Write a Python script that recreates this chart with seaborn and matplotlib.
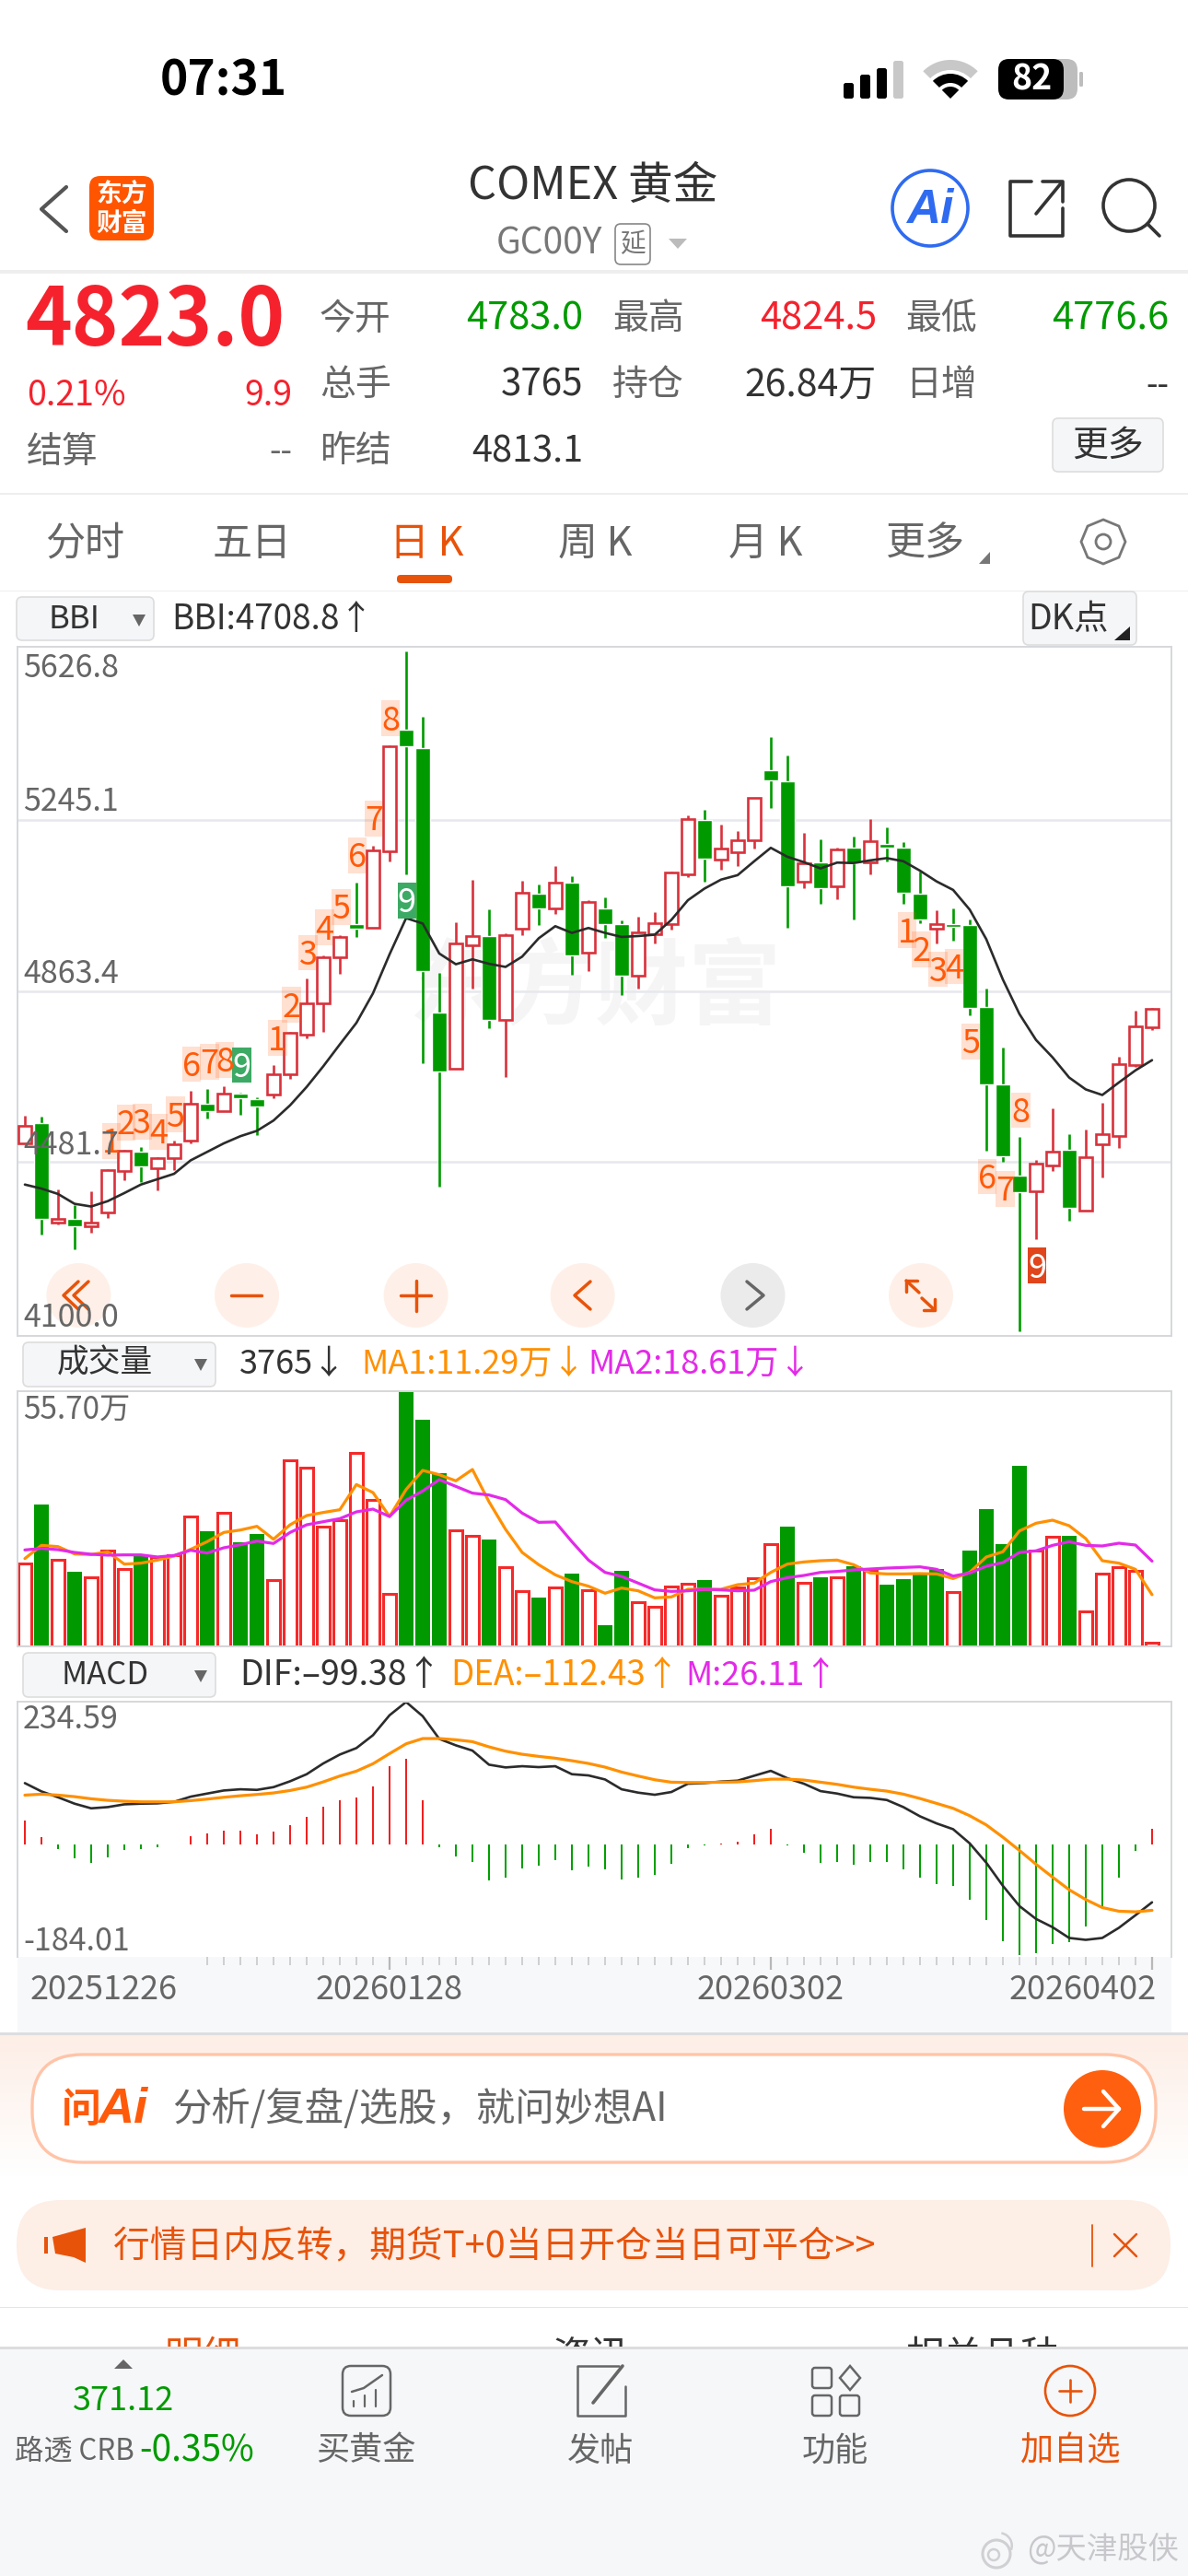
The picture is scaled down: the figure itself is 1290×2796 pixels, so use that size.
import numpy as np
import pandas as pd
import seaborn as sns
import matplotlib.pyplot as plt
from matplotlib.colors import LinearSegmentedColormap
from matplotlib.patches import Circle, FancyBboxPatch, Polygon, Rectangle, RegularPolygon, Wedge

# daily candles
opens = [4524, 4569, 4347, 4354, 4337, 4369, 4462, 4505, 4467, 4490, 4529, 4611, 4595, 4635, 4621, 4633, 4677, 4766,
         4835, 4938, 5012, 5004, 5176, 5446, 5406, 4815, 4690, 4965, 4985, 4799, 5002, 5081, 5047, 5105, 4948, 5047,
         5012, 4897, 4991, 5012, 5124, 5245, 5157, 5173, 5200, 5356, 5331, 5108, 5151, 5098, 5184, 5151, 5192, 5183,
         5081, 5002, 5012, 5010, 4828, 4654, 4451, 4416, 4474, 4509, 4373, 4521, 4539, 4697, 4783]
closes = [4562, 4354, 4355, 4337, 4346, 4463, 4507, 4472, 4490, 4521, 4611, 4596, 4635, 4623, 4605, 4677, 4769, 4836,
          4938, 4983, 5002, 5178, 5409, 5409, 4907, 4683, 4970, 4986, 4799, 4989, 5082, 5048, 5106, 4942, 5063, 5012,
          4897, 4995, 5014, 5128, 5247, 5159, 5182, 5200, 5294, 5333, 5098, 5149, 5092, 5180, 5149, 5198, 5184, 5083,
          5022, 5012, 5006, 4826, 4654, 4494, 4414, 4477, 4504, 4380, 4492, 4543, 4700, 4785, 4823]
highs = [4585, 4582, 4421, 4386, 4416, 4466, 4509, 4514, 4492, 4529, 4641, 4645, 4651, 4637, 4626, 4698, 4771, 4891,
         4942, 4989, 5106, 5188, 5411, 5622, 5476, 4904, 5017, 5112, 5045, 4993, 5109, 5101, 5142, 5120, 5067, 5073,
         5020, 5030, 5040, 5129, 5255, 5268, 5235, 5220, 5294, 5431, 5390, 5216, 5202, 5184, 5208, 5247, 5229, 5196,
         5131, 5043, 5048, 5022, 4869, 4738, 4538, 4485, 4602, 4543, 4553, 4613, 4717, 4820, 4824.5]
lows = [4524, 4319, 4342, 4287, 4323, 4357, 4441, 4436, 4418, 4464, 4523, 4579, 4595, 4586, 4541, 4623, 4667, 4758,
        4772, 4901, 4983, 5004, 5153, 5124, 4702, 4426, 4690, 4869, 4781, 4671, 4989, 5010, 5035, 4899, 4907, 4981,
        4855, 4869, 4969, 5000, 5118, 5108, 5135, 5143, 5182, 5271, 5005, 5092, 5058, 5069, 5022, 5124, 5153, 5057,
        5014, 4969, 4976, 4810, 4507, 4482, 4104, 4310, 4461, 4351, 4373, 4447, 4512, 4693, 4776.6]
bbi = [4431, 4422, 4410, 4388, 4382, 4394, 4412, 4431, 4443, 4455, 4485, 4504, 4523, 4539, 4551, 4574, 4608, 4649,
       4695, 4744, 4792, 4858, 4945, 5026, 5014, 4947, 4923, 4934, 4924, 4917, 4940, 4981, 5008, 4993, 5004, 4993,
       4984, 4986, 4989, 5022, 5066, 5092, 5112, 5122, 5153, 5183, 5163, 5151, 5137, 5150, 5149, 5155, 5160, 5153,
       5132, 5108, 5089, 5045, 4979, 4889, 4812, 4754, 4715, 4670, 4643.5, 4631, 4659, 4686, 4708.8]

# volume, in 万 lots
volume = [18.17, 31.03, 18.84, 16.36, 15.15, 20.98, 16.96, 19.84, 19.5, 19.84, 28.35, 25.2, 29.22, 22.66, 24.6, 14.48,
          40.62, 39.08, 26.21, 27.55, 42.23, 31.97, 11.4, 55.7, 49.47, 37.87, 25.34, 24.2, 23.26, 17.36, 12.13, 10.66,
          12.87, 15.95, 12.27, 4.63, 16.56, 9.72, 8.65, 13.07, 13.74, 14.55, 11.13, 12.8, 14.81, 22.32, 26.21, 13.94,
          15.01, 15.08, 17.43, 16.49, 13.41, 14.75, 15.82, 16.96, 11.86, 20.98, 29.9, 22.39, 39.35, 20.85, 23.93, 24.2,
          7.64, 15.82, 17.29, 16.49, 0.87]
volume_up = "RGRGRRRGRRRGRGGRRRRRRRRGGGRRGRRGRGRGGRRRRGRRRRGRGRGRGGGGRGGGGRRGRRRRR"
ma1 = [19.17, 22.05, 21.78, 20.18, 20.04, 20.65, 17.96, 18.17, 18.84, 19.71, 21.18, 22.86, 24.87, 25.4, 26.21, 23.39,
       26.54, 28.55, 29.23, 29.83, 35.33, 33.58, 28.35, 34.25, 38.41, 37.47, 36.13, 38.61, 31.57, 25.54, 20.51, 17.83,
       15.62, 14.14, 13.14, 11.6, 12.74, 12.13, 10.59, 10.79, 12.47, 12.47, 12.47, 13.47, 13.81, 16.15, 17.96, 18.43,
       18.7, 18.84, 17.83, 16.02, 15.82, 15.82, 15.89, 15.82, 14.81, 16.15, 19.51, 20.65, 25.2, 26.88, 27.55, 26.34,
       23.53, 18.7, 18.17, 16.82, 11.29]
ma2 = [21.05, 21.38, 21.11, 20.51, 20.11, 19.91, 19.97, 19.97, 19.51, 19.84, 20.98, 20.38, 21.52, 22.19, 22.99, 22.46,
       24.87, 26.54, 27.21, 27.88, 29.36, 29.96, 28.35, 31.91, 33.92, 36.4, 34.92, 33.45, 33.05, 32.04, 29.09, 27.08,
       27.15, 22.86, 18.84, 16.15, 15.28, 13.81, 12.33, 12.0, 12.13, 12.47, 12.33, 12.13, 12.27, 14.14, 15.01, 15.48,
       16.15, 16.36, 16.69, 16.89, 17.09, 17.23, 17.36, 16.82, 15.35, 16.02, 17.5, 18.3, 20.51, 20.85, 22.05, 22.86,
       22.05, 21.92, 22.52, 22.12, 18.61]

# MACD
dif = [100.7, 87.1, 77.5, 67.0, 59.4, 61.4, 65.9, 67.0, 67.5, 70.0, 78.5, 83.6, 88.6, 90.6, 89.6, 94.1, 103.7, 115.3,
       132.9, 147.5, 158.1, 179.2, 211.9, 233.6, 210.4, 173.2, 162.6, 154.0, 130.9, 126.4, 128.4, 126.9, 128.4, 115.3,
       113.3, 106.7, 90.6, 85.1, 81.6, 86.1, 99.7, 100.7, 103.2, 104.7, 112.8, 120.8, 108.7, 99.7, 87.6, 83.6, 77.5,
       76.5, 73.0, 61.4, 46.3, 34.7, 25.2, 2.0, -29.7, -67.5, -100.7, -121.8, -135.4, -153.0, -156.1, -153.0, -136.4,
       -115.8, -94.6]
dea = [81.0, 82.6, 81.0, 78.5, 75.0, 72.5, 71.0, 70.0, 70.0, 70.0, 72.0, 74.5, 77.5, 80.0, 82.1, 84.6, 88.6, 94.1,
       102.7, 112.3, 120.3, 132.4, 149.0, 165.1, 173.7, 173.7, 171.7, 168.6, 160.1, 153.0, 148.0, 144.5, 141.5, 137.4,
       132.9, 126.9, 118.8, 112.3, 106.2, 102.2, 101.7, 101.7, 102.2, 102.7, 104.7, 107.2, 107.2, 105.7, 102.2, 98.7,
       94.1, 90.6, 87.6, 82.6, 75.5, 67.5, 59.4, 47.3, 32.2, 12.1, -9.6, -32.2, -53.4, -74.0, -90.1, -103.2, -109.2,
       -110.2, -107.7]
macd_m = [39.3, 12.1, -7.0, -22.1, -30.7, -21.1, -9.6, -7.6, -5.0, 0, 13.1, 17.6, 23.2, 22.7, 16.6, 20.6, 32.2, 44.8,
          61.4, 72.5, 76.5, 94.6, 128.4, 139.9, 73.0, -4.0, -19.1, -28.2, -58.9, -54.4, -39.3, -35.2, -25.7, -41.8,
          -36.7, -40.3, -57.4, -54.9, -49.8, -31.2, -5.5, -1.0, 2.0, 5.0, 16.1, 25.7, -1.0, -13.1, -29.7, -28.7, -32.7,
          -28.7, -28.2, -40.8, -54.9, -64.4, -68.0, -91.1, -123.3, -158.1, -181.7, -178.2, -163.1, -159.6, -133.9,
          -101.7, -54.9, -10.1, 26.11]

# setup-count labels on the price chart
td_labels = list("123456789") + list("123456789") + list("123456789")
td_x = [5.23, 6.1, 7.08, 8.06, 9.07, 10.05, 11.15, 12.06, 13.09, 15.24, 16.08, 17.09, 18.09, 19.08, 20.06, 21.06, 22.05,
        23.05, 53.23, 54.1, 55.1, 56.06, 57.06, 58.07, 59.13, 60.1, 61.06]
td_price = [4529, 4570, 4572, 4549, 4587, 4700, 4705, 4710, 4698, 4758, 4832, 4949, 5005, 5051, 5166, 5249, 5472, 5066,
            4999, 4956, 4912, 4918, 4751, 4449, 4422, 4597, 4250]

price_grid = [5245.1, 4863.4, 4481.7]
price_labels = ["5626.8", "5245.1", "4863.4", "4481.7", "4100.0"]
date_labels = ["20251226", "20260128", "20260302", "20260402"]

sns.set_theme(style="white")
plt.rcParams['font.family'] = ['Noto Sans CJK SC', 'DejaVu Sans']
plt.rcParams['axes.unicode_minus'] = False

W, H = 1290, 2796
RED, GREEN = '#F5222D', '#009A00'
CANDLE_RED = '#D8323C'
VOL_RED = '#F52A2A'
ORANGE = '#E8530A'
MA_ORANGE, MA_PINK = '#FF9000', '#E32AE8'
DARK, GREY = '#333333', '#666666'
FRAME = '#D5D7DB'

df = pd.DataFrame({'idx': np.arange(len(opens)), 'open': opens, 'close': closes, 'high': highs, 'low': lows,
                   'bbi': bbi, 'vol': volume, 'ma1': ma1, 'ma2': ma2, 'dif': dif, 'dea': dea, 'm': macd_m,
                   'vol_up': [c == 'R' for c in volume_up]})

fig = plt.figure(figsize=(W / 100, H / 100), dpi=100, facecolor='white')


def px_axes(x0, y0, x1, y1, zorder):
    ax = fig.add_axes([x0 / W, 1 - y1 / H, (x1 - x0) / W, (y1 - y0) / H], zorder=zorder)
    return ax


def overlay(zorder):
    ax = px_axes(0, 0, W, H, zorder)
    ax.set_xlim(0, W)
    ax.set_ylim(H, 0)
    ax.axis('off')
    return ax


ui = overlay(1)
top = overlay(3)


def txt(ax, x, y, s, size, color=DARK, ha='left', weight='normal', zorder=6, **kw):
    # CJK line boxes sit a little high when centred
    ax.text(x, y + 3.5, s, fontsize=size, color=color, ha=ha, va='center', fontweight=weight, zorder=zorder, **kw)


def rbox(ax, x0, y0, x1, y1, r, fc, ec='none', lw=0, zorder=2):
    ax.add_patch(FancyBboxPatch((x0, y0), x1 - x0, y1 - y0, boxstyle=f'round,pad=0,rounding_size={r}',
                                fc=fc, ec=ec, lw=lw, zorder=zorder))


def stroke(ax, xs, ys, color, lw=2.5, zorder=6):
    ax.plot(xs, ys, color=color, lw=lw, solid_capstyle='round', solid_joinstyle='round', zorder=zorder)


def tri(ax, pts, color, zorder=3):
    ax.add_patch(Polygon(pts, fc=color, ec='none', zorder=zorder))


def style_chart(ax, ylim):
    ax.set(xlabel='', ylabel='', xlim=(-0.472, 69.17), ylim=ylim, xticks=[], yticks=[])
    for sp in ax.spines.values():
        sp.set_color(FRAME)
        sp.set_linewidth(1.4)
        sp.set_visible(True)


# price panel
ax_k = px_axes(18.5, 702, 1272, 1450, 2)
ax_k.text(646, 1075, '东方财富', transform=ui.transData, fontsize=73, fontweight='bold', color='#F5F5F5',
          ha='center', va='center', zorder=0)
for level in price_grid:
    ax_k.axhline(level, color='#E6E8EE', lw=1.8, zorder=1)
up = df[df['close'] >= df['open']]
down = df[df['close'] < df['open']]
ax_k.vlines(down['idx'], down['low'], down['high'], color=GREEN, lw=1.9, zorder=2)
ax_k.bar(down['idx'], down['open'] - down['close'], bottom=down['close'], width=0.84, color=GREEN, zorder=3)
ax_k.vlines(up['idx'], up['low'], up['high'], color=CANDLE_RED, lw=1.9, zorder=2)
ax_k.bar(up['idx'], up['close'] - up['open'], bottom=up['open'], width=0.74, facecolor='white',
         edgecolor=CANDLE_RED, linewidth=1.9, zorder=3)
sns.lineplot(data=df, x='idx', y='bbi', color='#2B2B2B', linewidth=1.9, ax=ax_k, zorder=5)
style_chart(ax_k, (4093, 5632))

for pos, label, price in zip(td_x, td_labels, td_price):
    if label == '9':
        fc, tc = ('#E0451C', 'white') if pos > 50 else ('#3CAA64', 'white')
        alpha = 1
    else:
        fc, tc, alpha = '#FF5500', '#FF5A0A', 0.18
    ax_k.add_patch(Rectangle((pos - 0.57, price - 40), 1.14, 80, fc=fc, ec='none', alpha=alpha, zorder=6))
    ax_k.text(pos, price - 6, label, fontsize=26, color=tc, ha='center', va='center', zorder=7)

# volume panel
ax_v = px_axes(18.5, 1510, 1272, 1787, 2)
sns.barplot(data=df[df['vol_up']], x='idx', y='vol', native_scale=True, fill=False, color=VOL_RED, width=0.74,
            linewidth=2.2, errorbar=None, ax=ax_v)
sns.barplot(data=df[~df['vol_up']], x='idx', y='vol', native_scale=True, color=GREEN, width=0.84,
            saturation=1, linewidth=0, errorbar=None, ax=ax_v)
sns.lineplot(data=df, x='idx', y='ma1', color=MA_ORANGE, linewidth=2.3, ax=ax_v)
sns.lineplot(data=df, x='idx', y='ma2', color=MA_PINK, linewidth=2.3, ax=ax_v)
style_chart(ax_v, (0, 55.7))

# MACD panel
ax_m = px_axes(18.5, 1846.7, 1272, 2124, 2)
sns.barplot(data=df[df['m'] > 0], x='idx', y='m', native_scale=True, color='#F02020', width=0.14, saturation=1,
            linewidth=0, errorbar=None, ax=ax_m)
sns.barplot(data=df[df['m'] < 0], x='idx', y='m', native_scale=True, color='#00A000', width=0.14, saturation=1,
            linewidth=0, errorbar=None, ax=ax_m)
sns.lineplot(data=df, x='idx', y='dif', color='#2B2B2B', linewidth=1.9, ax=ax_m)
sns.lineplot(data=df, x='idx', y='dea', color=MA_ORANGE, linewidth=2.3, ax=ax_m)
style_chart(ax_m, (-184.01, 234.59))
ax_m.spines['bottom'].set_visible(False)
ax_m.set_xticks(np.arange(11, 69), minor=True)
ax_m.set_xticks([22, 45, 68])
ax_m.set_xticklabels([])
ax_m.tick_params(axis='x', which='minor', bottom=True, length=6.2, width=1.1, color='#C4C4C4', direction='out')
ax_m.tick_params(axis='x', which='major', bottom=True, length=10, width=1.6, color='#B8B8B8', direction='out')

# status bar
txt(ui, 243, 84, '07:31', 37, 'black', ha='center', weight='bold')
for x0, h, c in zip([916, 934, 952, 970], [17, 26, 33, 41], ['black', 'black', 'black', '#C8C8C8']):
    rbox(ui, x0, 107 - h, x0 + 11, 107, 2.5, c)
ui.add_patch(Wedge((1032, 107), 42, 225, 315, width=11, fc='#C8C8C8', ec='none'))
ui.add_patch(Wedge((1032, 107), 27, 225, 315, width=10, fc='black', ec='none'))
ui.add_patch(Wedge((1032, 107), 13, 225, 315, fc='black', ec='none'))
rbox(ui, 1084, 64, 1170, 108, 12, '#BDBDBD')
rbox(ui, 1084, 64, 1155, 108, 12, 'black')
rbox(ui, 1172, 78, 1176, 94, 1.5, '#BDBDBD')
txt(ui, 1120, 83, '82', 27, 'white', ha='center', weight='bold')

# header
stroke(ui, [72, 45, 72], [203, 227, 251], '#555555', 3)
rbox(ui, 97, 191, 167, 261, 12, '#FF5500')
txt(ui, 132, 208, '东方', 20, 'white', ha='center', weight='bold')
txt(ui, 132, 239, '财富', 20, 'white', ha='center', weight='bold')
txt(ui, 644, 199, 'COMEX 黄金', 35, DARK, ha='center')
txt(ui, 596, 261, 'GC00Y', 28, '#777777', ha='center')
rbox(ui, 668, 243, 706, 287, 6, 'none', '#888888', 1.2)
txt(ui, 687, 262, '延', 20, '#777777', ha='center')
tri(ui, [(726, 259), (746, 259), (736, 270)], '#BBBBBB')
ui.add_patch(Circle((1010, 226), 41, fc='white', ec='#2F6BF0', lw=2.6))
txt(ui, 1010, 225, 'Ai', 37, '#2F6BF0', ha='center', weight='bold', family='Liberation Sans', style='italic')
stroke(ui, [1120, 1097, 1097, 1154, 1154], [197, 197, 256, 256, 226], '#333333', 2.6)
stroke(ui, [1125, 1152], [232, 199], '#333333', 2.6)
stroke(ui, [1132, 1154, 1154], [197, 197, 219], '#333333', 2.6)
ui.add_patch(Circle((1226, 223), 28, fc='none', ec='#333333', lw=2.6))
stroke(ui, [1246, 1259], [243, 256], '#333333', 2.6)
ui.add_patch(Rectangle((0, 293), W, 4, fc='#EEEEEE', ec='none'))

# quote block
txt(ui, 27, 346, '4823.0', 62, RED, weight='bold')
txt(ui, 29, 426, '0.21%', 27, RED)
txt(ui, 317, 426, '9.9', 27, RED, ha='right')
txt(ui, 29, 487, '结算', 28, GREY)
txt(ui, 317, 487, '--', 26, GREY, ha='right')
for y, s in zip([343, 415, 487], ['今开', '总手', '昨结']):
    txt(ui, 347, y, s, 28, GREY)
txt(ui, 633, 343, '4783.0', 30, GREEN, ha='right')
txt(ui, 633, 415, '3765', 29, DARK, ha='right')
txt(ui, 633, 487, '4813.1', 28.5, DARK, ha='right')
txt(ui, 665, 343, '最高', 28, GREY)
txt(ui, 665, 415, '持仓', 28, GREY)
txt(ui, 952, 343, '4824.5', 30, RED, ha='right')
txt(ui, 952, 415, '26.84万', 29.5, DARK, ha='right')
txt(ui, 983, 343, '最低', 28, GREY)
txt(ui, 983, 415, '日增', 28, GREY)
txt(ui, 1269, 343, '4776.6', 30, GREEN, ha='right')
txt(ui, 1269, 415, '--', 26, DARK, ha='right')
rbox(ui, 1143, 454, 1263, 512, 6, '#F5F6F8', '#DDDDDD', 1.2)
txt(ui, 1203, 480, '更多', 28, DARK, ha='center')
ui.add_patch(Rectangle((0, 535), W, 1.5, fc='#EEEEEE', ec='none'))

# period tabs
for x, s, c in zip([92, 274, 463, 646, 831, 1005], ['分时', '五日', '日 K', '周 K', '月 K', '更多'],
                   [GREY, GREY, ORANGE, GREY, GREY, GREY]):
    txt(ui, x, 587, s, 31, c, ha='center')
tri(ui, [(1075, 599), (1075, 612), (1063, 612)], '#777777')
ui.add_patch(RegularPolygon((1198, 588), 8, radius=24, fc='none', ec='#777777', lw=2))
ui.add_patch(Circle((1198, 588), 8, fc='none', ec='#777777', lw=2))
rbox(ui, 431, 624, 491, 633, 4, ORANGE)
ui.add_patch(Rectangle((0, 640.5), W, 1.5, fc='#EEEEEE', ec='none'))

# indicator rows
rbox(ui, 18, 648, 167, 695, 6, '#F5F6F8', '#DDDDDD', 1.2)
txt(ui, 80, 669, 'BBI', 25, DARK, ha='center')
tri(ui, [(144, 667), (158, 667), (151, 680)], GREY)
txt(ui, 186, 669, 'BBI:4708.8↑', 26.5, DARK)
rbox(ui, 1111, 642, 1234, 700, 6, '#F5F6F8', '#DDDDDD', 1.2)
txt(ui, 1160, 669, 'DK点', 27, DARK, ha='center')
tri(ui, [(1227, 680), (1227, 695), (1210, 695)], '#222222')

rbox(ui, 25, 1457, 234, 1505, 6, '#F5F6F8', '#DDDDDD', 1.2)
txt(ui, 114, 1477, '成交量', 25, DARK, ha='center')
tri(ui, [(211, 1475), (225, 1475), (218, 1488)], GREY)
txt(ui, 260, 1477, '3765↓', 26, DARK)
txt(ui, 392, 1477, 'MA1:11.29万↓', 26, MA_ORANGE)
txt(ui, 638, 1477, 'MA2:18.61万↓', 26, MA_PINK)

rbox(ui, 25, 1794, 234, 1842, 6, '#F5F6F8', '#DDDDDD', 1.2)
txt(ui, 114, 1815, 'MACD', 25, DARK, ha='center')
tri(ui, [(211, 1813), (225, 1813), (218, 1826)], GREY)
txt(ui, 260, 1815, 'DIF:–99.38↑', 27, DARK)
txt(ui, 489, 1815, 'DEA:–112.43↑', 26.5, MA_ORANGE)
txt(ui, 744, 1815, 'M:26.11↑', 26, MA_PINK)

# date band under the MACD panel
ui.add_patch(Rectangle((18.5, 2124), 1253.5, 82, fc='#F7F8FA', ec='none', zorder=0.5))
for x, s, ha in zip([33, 423, 837, 1256], date_labels, ['left', 'center', 'center', 'right']):
    txt(ui, x, 2156, s, 26, GREY, ha=ha)
ui.add_patch(Rectangle((0, 2205.5), W, 3, fc='#DDDDE0', ec='none'))

# labels and buttons sitting on the charts
for cx, c in zip([85.4, 268, 451.6, 632.6, 817.5, 1000], ['#FEF0E8'] * 4 + ['#EBEBEB', '#FEF0E8']):
    top.add_patch(Circle((cx, 1406), 35, fc=c, ec='none', zorder=2))
stroke(top, [85, 69, 85], [1391, 1406, 1421], ORANGE)
stroke(top, [96, 80, 96], [1391, 1406, 1421], ORANGE)
stroke(top, [251, 284], [1406, 1406], ORANGE)
stroke(top, [435, 468], [1406, 1406], ORANGE)
stroke(top, [451.6, 451.6], [1390, 1423], ORANGE)
stroke(top, [641, 624, 641], [1391, 1406, 1421], ORANGE)
stroke(top, [811, 829, 811], [1391, 1406, 1421], GREY)
stroke(top, [984, 984, 996], [1402, 1390, 1390], ORANGE)
stroke(top, [984, 998], [1390, 1403], ORANGE)
stroke(top, [1015, 1015, 1003], [1410, 1422, 1422], ORANGE)
stroke(top, [1015, 1001], [1422, 1409], ORANGE)
for y, s in zip([722, 867, 1054, 1240, 1427], price_labels):
    txt(top, 25, y, s, 24.5, GREY)
txt(top, 25, 1527, '55.70万', 24, GREY)
txt(top, 25, 1863, '234.59', 24.5, GREY)
txt(top, 25, 2104, '-184.01', 24.5, GREY)

# AI prompt
grad = LinearSegmentedColormap.from_list('peach', ['#FDEEE6', '#FFFFFF'])
ui.imshow(np.linspace(0, 1, 64)[:, None], extent=[0, W, 2363, 2208], cmap=grad, aspect='auto', zorder=0.2)
ui.set_xlim(0, W)
ui.set_ylim(H, 0)
rbox(ui, 35, 2230, 1255, 2347, 55, 'white', '#FFC4A8', 2.4)
txt(ui, 67, 2286, '问', 31, '#FF5A0A', weight='bold')
txt(ui, 106, 2286, 'Ai', 39, '#FF5A0A', weight='bold', family='Liberation Sans', style='italic')
txt(ui, 187, 2286, '分析/复盘/选股，就问妙想AI', 30.5, GREY)
ui.add_patch(Circle((1197, 2289), 42, fc='#FF6010', ec='none', zorder=3))
stroke(ui, [1177, 1215], [2289, 2289], 'white', 3.2)
stroke(ui, [1198, 1215, 1198], [2270, 2289, 2308], 'white', 3.2)

# notice banner
rbox(ui, 18, 2388, 1271, 2486, 47, '#FDEEE6')
ui.add_patch(Polygon([(57, 2428), (93, 2418), (93, 2456), (80, 2450), (60, 2446)], fc=ORANGE, ec='none', zorder=3))
ui.add_patch(Rectangle((48, 2428), 4, 18, fc=ORANGE, ec='none', zorder=3))
txt(ui, 123, 2436, '行情日内反转，期货T+0当日开仓当日可平仓>>', 28.6, ORANGE)
stroke(ui, [1186, 1186], [2415, 2460], ORANGE, 1.3)
stroke(ui, [1210, 1234], [2425, 2449], ORANGE, 1.8)
stroke(ui, [1234, 1210], [2425, 2449], ORANGE, 1.8)
ui.add_patch(Rectangle((0, 2503.5), W, 1.5, fc='#E5E5E5', ec='none'))

# section tabs, mostly hidden by the nav bar
txt(ui, 220, 2556, '明细', 30, ORANGE, ha='center', zorder=4)
txt(ui, 642, 2556, '资讯', 30, DARK, ha='center', zorder=4)
txt(ui, 1067, 2556, '相关品种', 30, DARK, ha='center', zorder=4)

# bottom nav
ui.add_patch(Rectangle((0, 2548), W, H - 2548, fc='#F6F7F9', ec='none', zorder=5))
ui.add_patch(Rectangle((0, 2547), W, 2.5, fc='#DDDDE0', ec='none', zorder=5))
ui.add_patch(Polygon([(124, 2571), (144, 2571), (134, 2561)], fc=GREY, ec='none', zorder=6))
txt(ui, 134, 2603, '371.12', 26, GREEN, ha='center')
txt(ui, 16, 2657, '路透 CRB', 22.5, GREY)
txt(ui, 151, 2657, '-0.35%', 28, GREEN)
for x, s, c in zip([397, 652, 907, 1162], ['买黄金', '发帖', '功能', '加自选'], [GREY, GREY, GREY, ORANGE]):
    txt(ui, x, 2657, s, 26, c, ha='center')
rbox(ui, 372, 2568, 424, 2622, 9, 'none', GREY, 1.8, zorder=6)
for x, y0 in zip([384, 396, 408], [2606, 2600, 2594]):
    stroke(ui, [x, x], [y0, 2612], GREY, 1.6)
stroke(ui, [382, 395, 415], [2596, 2592, 2578], GREY, 1.8)
stroke(ui, [672, 627, 627, 679, 679], [2568, 2568, 2622, 2622, 2590], GREY, 1.8)
stroke(ui, [644, 676], [2608, 2568], GREY, 2.6)
rbox(ui, 882, 2570, 903, 2592, 3, 'none', GREY, 1.8, zorder=6)
ui.add_patch(Polygon([(923, 2568), (934, 2581), (923, 2594), (912, 2581)], fc='none', ec=GREY, lw=1.8, zorder=6))
rbox(ui, 882, 2600, 903, 2622, 3, 'none', GREY, 1.8, zorder=6)
rbox(ui, 912, 2600, 933, 2622, 3, 'none', GREY, 1.8, zorder=6)
ui.add_patch(Circle((1162, 2595), 27, fc='none', ec=ORANGE, lw=1.9, zorder=6))
stroke(ui, [1150, 1174], [2595, 2595], ORANGE, 1.9)
stroke(ui, [1162, 1162], [2583, 2607], ORANGE, 1.9)

# repost watermark
ui.add_patch(Circle((1082, 2772), 15, fc='none', ec='#D0D0D4', lw=2.2, zorder=6))
ui.add_patch(Circle((1079, 2773), 6, fc='none', ec='#D0D0D4', lw=1.8, zorder=6))
ui.add_patch(Wedge((1085, 2763), 15, 280, 20, width=2.5, fc='#D0D0D4', ec='none', zorder=6))
txt(ui, 1115, 2763, '@天津股侠', 24, '#C8C8CC')

fig.savefig('out.png', dpi=100)
